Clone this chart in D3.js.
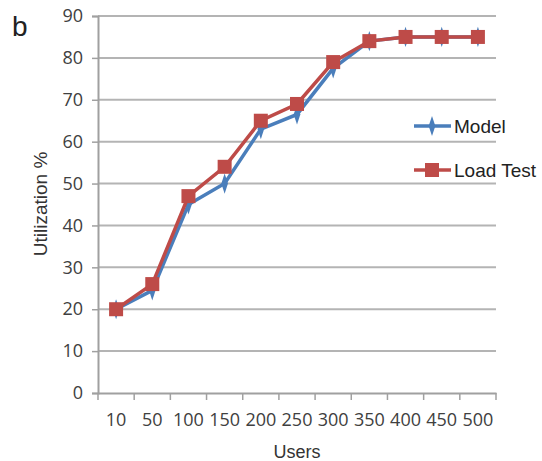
<!DOCTYPE html>
<html>
<head>
<meta charset="utf-8">
<script src="https://d3js.org/d3.v7.min.js"></script>
<style>
  body { margin: 0; background: #fff; }
  .tick text { font-family: "Liberation Sans Narrow", "Open Sans", sans-serif; }
  .lab { font-family: "Liberation Sans", Arial, sans-serif; }
</style>
</head>
<body>
<svg id="chart" width="542" height="461"></svg>
<script>
// data
let users = ["10", "50", "100", "150", "200", "250", "300", "350", "400", "450", "500"]
let model = [20, 24.5, 45, 50, 63, 66.5, 77.5, 84, 85, 85, 85]
let loadTest = [20, 26, 47, 54, 65, 69, 79, 84, 85, 85, 85]
let yTicks = [0, 10, 20, 30, 40, 50, 60, 70, 80, 90]

let svg = d3.select("#chart")

let x = d3.scaleBand().domain(users).range([98, 496])
let y = d3.scaleLinear().domain([0, 90]).range([393, 16])

// grid lines
svg.append("g").selectAll("line")
    .data(yTicks.filter(d => d > 0))
    .enter().append("line")
    .attr("x1", 98).attr("x2", 496)
    .attr("y1", d => y(d)).attr("y2", d => y(d))
    .attr("stroke", "#b4b4b4")
    .attr("stroke-width", 2)

// y axis
let yAxis = svg.append("g")
    .attr("transform", "translate(98,0)")
    .call(d3.axisLeft(y).tickValues(yTicks).tickSize(6).tickPadding(9))
yAxis.select(".domain").attr("stroke", "#a0a0a0").attr("stroke-width", 2)
yAxis.selectAll(".tick line").attr("stroke", "#a0a0a0").attr("stroke-width", 1.5)
yAxis.selectAll("text").attr("font-size", 18).attr("fill", "#404040")

// x axis, ticks on category borders
let xAxis = svg.append("g")
    .attr("transform", "translate(0,393)")
    .call(d3.axisBottom(x).tickSize(0).tickPadding(20))
xAxis.select(".domain").attr("stroke", "#a0a0a0").attr("stroke-width", 2)
xAxis.selectAll("text").attr("font-size", 18).attr("fill", "#404040")
svg.append("g").selectAll("line")
    .data(users.concat(["end"]))
    .enter().append("line")
    .attr("x1", (d, i) => 98 + i * x.step()).attr("x2", (d, i) => 98 + i * x.step())
    .attr("y1", 393).attr("y2", 400)
    .attr("stroke", "#a0a0a0").attr("stroke-width", 1.5)

let cx = d => x(d) + x.bandwidth() / 2

let line = d3.line()
    .x((d, i) => cx(users[i]))
    .y(d => y(d))

let blue = "#4a7ebb"
let red = "#be4b48"

// model series
svg.append("path").datum(model)
    .attr("d", line).attr("fill", "none")
    .attr("stroke", blue).attr("stroke-width", 3.5)
svg.append("g").selectAll("path")
    .data(model)
    .enter().append("path")
    .attr("d", d3.symbol().type(d3.symbolDiamond).size(60))
    .attr("transform", (d, i) => "translate(" + cx(users[i]) + "," + y(d) + ") scale(0.8,1.4)")
    .attr("fill", blue)

// load test series
svg.append("path").datum(loadTest)
    .attr("d", line).attr("fill", "none")
    .attr("stroke", red).attr("stroke-width", 3.5)
svg.append("g").selectAll("rect")
    .data(loadTest)
    .enter().append("rect")
    .attr("x", (d, i) => cx(users[i]) - 7)
    .attr("y", d => y(d) - 7)
    .attr("width", 14).attr("height", 14)
    .attr("fill", red)

// legend
let legend = svg.append("g")
let items = [["Model", blue, "diamond"], ["Load Test", red, "square"]]
items.forEach((it, i) => {
    let ly = 126 + i * 44
    legend.append("line")
        .attr("x1", 414).attr("x2", 451)
        .attr("y1", ly).attr("y2", ly)
        .attr("stroke", it[1]).attr("stroke-width", 3.5)
    if (it[2] === "diamond") {
        legend.append("path")
            .attr("d", d3.symbol().type(d3.symbolDiamond).size(60))
            .attr("transform", "translate(432," + ly + ") scale(0.8,1.4)")
            .attr("fill", it[1])
    } else {
        legend.append("rect")
            .attr("x", 425).attr("y", ly - 7)
            .attr("width", 14).attr("height", 14)
            .attr("fill", it[1])
    }
    legend.append("text")
        .attr("class", "lab")
        .attr("x", 454).attr("y", ly + 7)
        .attr("font-size", 19)
        .attr("fill", "#222")
        .text(it[0])
})

// axis titles
svg.append("text")
    .attr("class", "lab")
    .attr("transform", "translate(47,204) rotate(-90)")
    .attr("text-anchor", "middle")
    .attr("font-size", 19)
    .attr("fill", "#333")
    .text("Utilization %")

svg.append("text")
    .attr("class", "lab")
    .attr("x", 297).attr("y", 458)
    .attr("text-anchor", "middle")
    .attr("font-size", 18)
    .attr("fill", "#333")
    .text("Users")

svg.append("text")
    .attr("class", "lab")
    .attr("x", 12).attr("y", 36)
    .attr("font-size", 28)
    .attr("fill", "#222")
    .text("b")
</script>
</body>
</html>
